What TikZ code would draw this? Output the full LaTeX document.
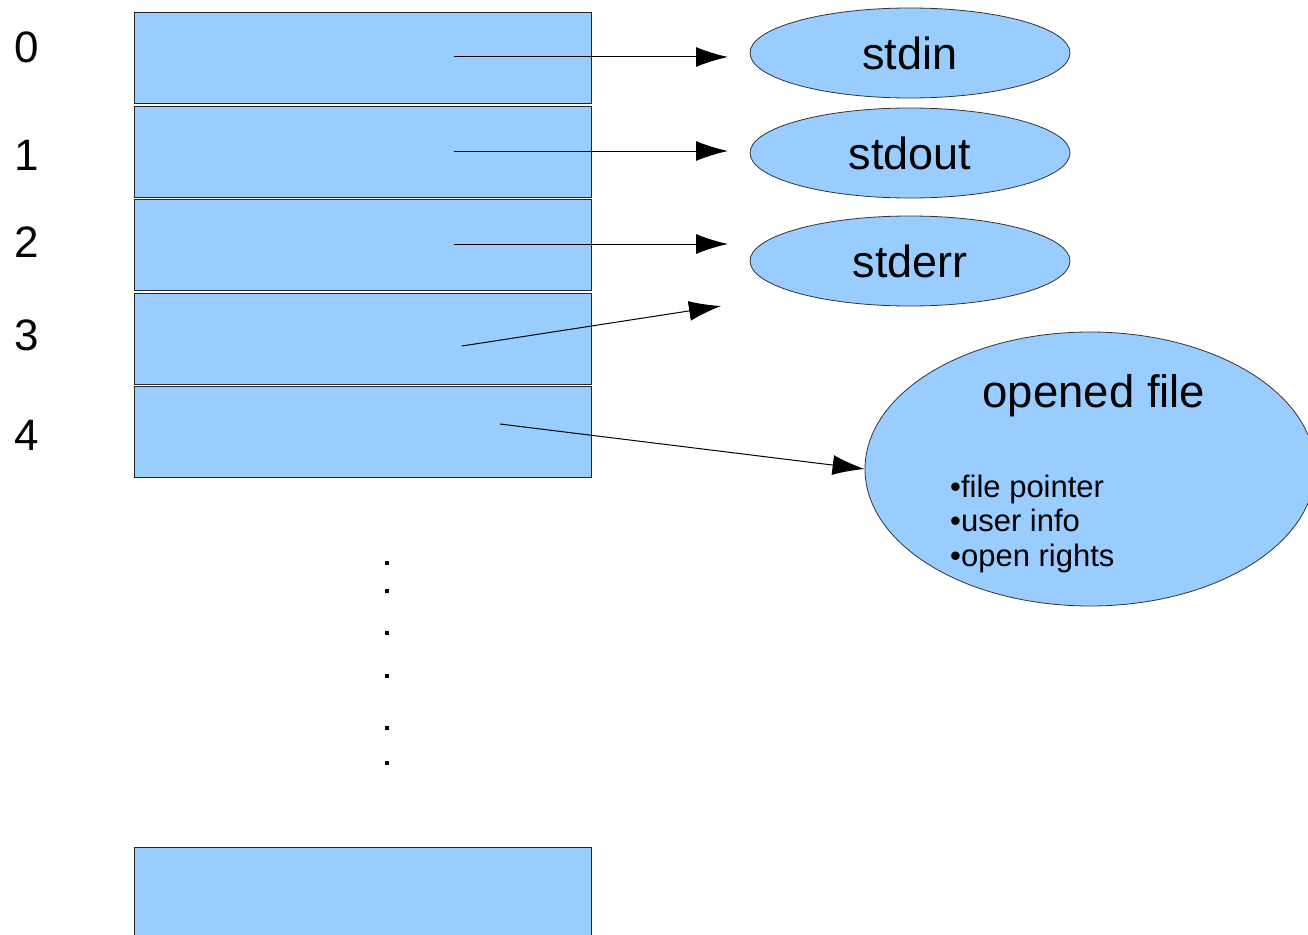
\documentclass[tikz,border=0pt]{standalone}
\usepackage{fontspec}
\setmainfont{Liberation Sans}
\usetikzlibrary{shapes.geometric,arrows.meta}
\definecolor{cellblue}{HTML}{99CCFF}
\tikzset{
  cell/.style={draw=black!85, fill=cellblue, line width=1pt, minimum width=457pt, minimum height=91pt, inner sep=0pt, anchor=north west},
  fdesc/.style={ellipse, draw=black!80, fill=cellblue, line width=0.8pt, minimum width=320pt, minimum height=90pt, inner sep=0pt, font=\fontsize{45}{52}\selectfont},
  idx/.style={font=\fontsize{44}{52}\selectfont, inner sep=0pt},
  item/.style={font=\fontsize{31}{36}\selectfont, inner sep=0pt, anchor=base west},
  ptr/.style={line width=1pt, -{Latex[length=32pt,width=20pt]}},
  dot/.style={fill=black, minimum size=4pt, inner sep=0pt}
}
\begin{document}
\begin{tikzpicture}[x=1pt,y=-1pt]
\clip (0,0) rectangle (1308,934);
\fill[white] (0,0) rectangle (1308,934);
% table cells
\node[cell] (r0) at (134,12) {};
\node[cell] (r1) at (134,106) {};
\node[cell] (r2) at (134,199) {};
\node[cell] (r3) at (134,293) {};
\node[cell] (r4) at (134,386) {};
\node[cell, minimum height=100pt] (r5) at (134,847) {};
% indices
\node[idx] (i0) at (27,47) {0};
\node[idx] (i1) at (27,155) {1};
\node[idx] (i2) at (27,242) {2};
\node[idx] (i3) at (27,335) {3};
\node[idx] (i4) at (27,435) {4};
% dots
\foreach \yy [count=\k] in {563,591,633,676,728,763} {
  \node[dot] (d\k) at (387,\yy) {};
}
% descriptors
\node[fdesc] (stdin) at (910,53) {stdin};
\node[fdesc] (stdout) at (910,153) {stdout};
\node[fdesc] (stderr) at (910,261) {stderr};
\node[ellipse, draw=black!80, fill=cellblue, line width=0.8pt, minimum width=450pt, minimum height=274pt, inner sep=0pt] (of) at (1090,469) {};
\node[font=\fontsize{45.5}{52}\selectfont, inner sep=0pt] (oft) at (1094,396) {opened file};
\node[item] (it1) at (950,497) {•file pointer};
\node[item] (it2) at (950,531.5) {•user info};
\node[item] (it3) at (950,566) {•open rights};
% pointer coordinates
\coordinate (s0) at (454,57);
\coordinate (e0) at (728,57);
\coordinate (s1) at (454,151);
\coordinate (e1) at (728,151);
\coordinate (s2) at (454,244);
\coordinate (e2) at (728,244);
\coordinate (s3) at (462,346);
\coordinate (e3) at (721,306);
\coordinate (s4) at (500,424);
\draw[ptr] (s0) -- (e0);
\draw[ptr] (s1) -- (e1);
\draw[ptr] (s2) -- (e2);
\draw[ptr] (s3) -- (e3);
\draw[ptr] (s4) -- (of.west);
\end{tikzpicture}
\end{document}
